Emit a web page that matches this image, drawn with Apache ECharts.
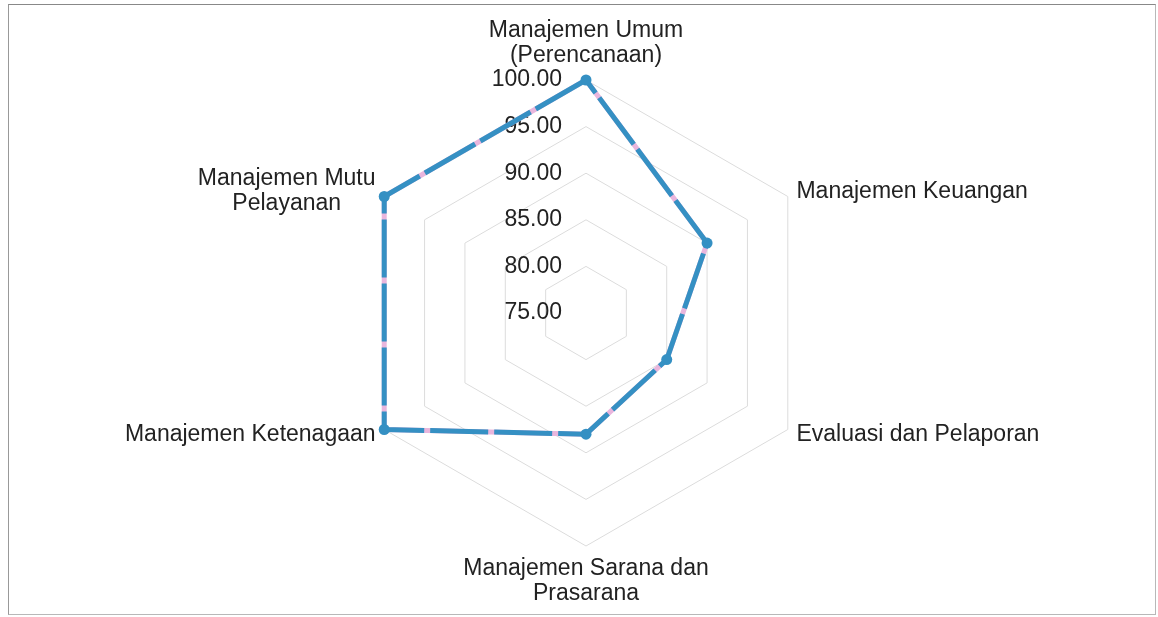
<!DOCTYPE html>
<html>
<head>
<meta charset="utf-8">
<script src="https://cdn.jsdelivr.net/npm/echarts@6/dist/echarts.min.js"></script>
<style>
  html, body { margin: 0; padding: 0; background: #fff; }
  #chart { width: 1158px; height: 617px; position: relative; }
  #frame { position: absolute; left: 8px; top: 4px; width: 1148px; height: 611px;
           border: 1px solid #b8b8b8; border-top-color: #888; border-left-color: #999; box-sizing: border-box; pointer-events: none; }
</style>
</head>
<body>
<div id="chart"></div>
<div id="frame"></div>
<script>
// indikator (urutan berlawanan arah jarum jam, mulai dari atas)
const categories = [
  'Manajemen Umum\n(Perencanaan)',
  'Manajemen Mutu\nPelayanan',
  'Manajemen Ketenagaan',
  'Manajemen Sarana dan\nPrasarana',
  'Evaluasi dan Pelaporan',
  'Manajemen Keuangan'
];
const scores = [100, 100, 100, 88, 85, 90];
const axisMin = 75;
const axisMax = 100;

const lineBlue = '#3590c3';
const linePink = '#e9b6dd';
const fontName = 'Liberation Sans, Arial, sans-serif';

const chartInstance = echarts.init(document.getElementById('chart'));

const option = {
  animation: false,
  backgroundColor: 'transparent',
  textStyle: { fontFamily: fontName },
  radar: {
    center: [586, 313],
    radius: 233,
    splitNumber: 5,
    nameGap: 10,
    axisName: {
      color: '#222',
      fontSize: 23,
      lineHeight: 25,
      fontFamily: fontName,
      // tiap baris ditengahkan
      formatter: name => name.split('\n').map(s => '{c|' + s + '}').join('\n'),
      rich: {
        c: { align: 'center', fontSize: 23, lineHeight: 25, color: '#222', fontFamily: fontName }
      }
    },
    axisLine: { show: false },
    axisTick: { show: false },
    splitArea: { show: false },
    splitLine: { lineStyle: { color: '#dcdcdc', width: 1 } },
    axisLabel: { show: false },
    indicator: categories.map((name, i) => {
      const ind = { name: name, min: axisMin, max: axisMax };
      if (i === 0) {
        ind.axisLabel = {
          show: true,
          color: '#222',
          fontSize: 23,
          margin: 24,
          fontFamily: fontName,
          formatter: v => Number(v).toFixed(2)
        };
      }
      return ind;
    })
  },
  series: [
    {
      name: 'pink',
      type: 'radar',
      symbol: 'none',
      lineStyle: { color: linePink, width: 5 },
      data: [{ value: scores }],
      z: 2
    },
    {
      name: 'skor',
      type: 'radar',
      symbol: 'circle',
      symbolSize: 11,
      itemStyle: { color: lineBlue },
      lineStyle: { color: lineBlue, width: 5, type: [58, 6], cap: 'butt' },
      data: [{ value: scores }],
      z: 3
    }
  ]
};

chartInstance.setOption(option);
</script>
</body>
</html>
